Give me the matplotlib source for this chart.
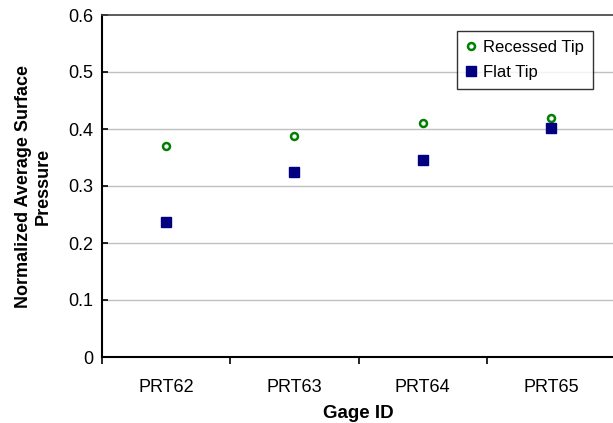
import matplotlib
matplotlib.use("Agg")
import matplotlib.pyplot as plt
import numpy as np

gages = ["PRT62", "PRT63", "PRT64", "PRT65"]
recessed_tip = [0.370, 0.387, 0.410, 0.419]
flat_tip = [0.236, 0.324, 0.346, 0.401]
y_ticks = [0, 0.1, 0.2, 0.3, 0.4, 0.5, 0.6]

plt.rcParams["font.family"] = ["Liberation Sans", "DejaVu Sans"]

fig = plt.figure(figsize=(6.13, 4.23), dpi=100)
ax = fig.add_axes([102 / 613, 66 / 423, (615 - 102) / 613, 342 / 423])

x = np.arange(len(gages)) + 0.5
ax.plot(x, recessed_tip, linestyle="none", marker="o", markersize=5,
        markerfacecolor="white", markeredgecolor="#008000", markeredgewidth=1.8,
        label="Recessed Tip", zorder=3)
ax.plot(x, flat_tip, linestyle="none", marker="s", markersize=6.5,
        color="#000080", label="Flat Tip", zorder=3)

ax.set_xlim(0, len(gages))
ax.set_ylim(0, 0.6)
ax.set_yticks(y_ticks)
ax.set_yticklabels(["0" if v == 0 else f"{v:.1f}" for v in y_ticks])
ax.set_xticks(np.arange(len(gages) + 1))
ax.set_xticklabels([])
ax.set_xticks(x, minor=True)
ax.set_xticklabels(gages, minor=True)
ax.tick_params(axis="x", which="minor", length=0, pad=16, labelsize=13)
ax.tick_params(axis="x", which="major", direction="out", length=5, width=1.2)
ax.tick_params(axis="y", direction="in", length=4, width=1.2, labelsize=13, pad=6)

for v in y_ticks[1:-1]:
    ax.axhline(v, color="#c0c0c0", linewidth=1.0, zorder=1)

ax.spines["right"].set_visible(False)
ax.spines["top"].set_color("#404040")
ax.spines["top"].set_linewidth(1.2)
ax.spines["left"].set_linewidth(1.5)
ax.spines["bottom"].set_linewidth(1.5)

ax.set_xlabel("Gage ID", fontsize=13.5, fontweight="bold", labelpad=6)
ax.set_ylabel("Normalized Average Surface\nPressure", fontsize=13,
              fontweight="bold", labelpad=12)

leg = ax.legend(loc="upper right", bbox_to_anchor=((593 - 102) / 513, 1 - 16 / 342),
                frameon=True, fancybox=False, edgecolor="black", fontsize=12,
                handlelength=0.6, handletextpad=0.4, borderpad=0.55,
                labelspacing=0.6, borderaxespad=0)
leg.get_frame().set_linewidth(1.0)

fig.savefig("out.png", dpi=100)
